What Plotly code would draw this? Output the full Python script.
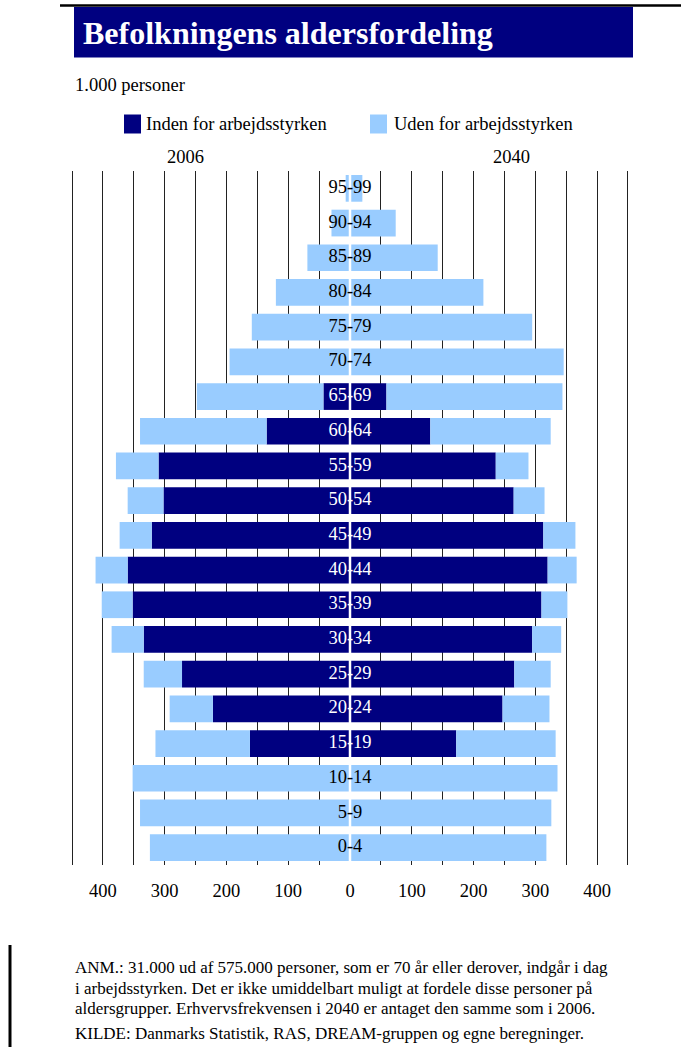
import plotly.graph_objects as go

# ---------------- data (1.000 personer) ----------------
ages = ['0-4', '5-9', '10-14', '15-19', '20-24', '25-29', '30-34', '35-39',
        '40-44', '45-49', '50-54', '55-59', '60-64', '65-69', '70-74',
        '75-79', '80-84', '85-89', '90-94', '95-99']
inden_2006 = [0, 0, 0, 162, 222, 272, 334, 352, 360, 321, 302, 310, 135, 43,
              0, 0, 0, 0, 0, 0]
uden_2006 = [324, 340, 352, 153, 70, 62, 52, 50, 52, 52, 58, 69, 205, 205,
             195, 159, 120, 69, 30, 7]
inden_2040 = [0, 0, 0, 172, 247, 266, 295, 310, 320, 313, 265, 236, 130, 59,
              0, 0, 0, 0, 0, 0]
uden_2040 = [318, 326, 336, 161, 76, 59, 47, 42, 47, 52, 50, 53, 195, 285,
             346, 295, 216, 142, 74, 20]
tick_values = list(range(-450, 451, 50))
tick_labels = [str(abs(v)) if v % 100 == 0 else '' for v in tick_values]

title = 'Befolkningens aldersfordeling'
unit = '1.000 personer'
legend_names = ['Inden for arbejdsstyrken', 'Uden for arbejdsstyrken']
years = ['2006', '2040']
notes = ['ANM.: 31.000 ud af 575.000 personer, som er 70 år eller derover, indgår i dag',
         'i arbejdsstyrken. Det er ikke umiddelbart muligt at fordele disse personer på',
         'aldersgrupper. Erhvervsfrekvensen i 2040 er antaget den samme som i 2006.']
source = 'KILDE: Danmarks Statistik, RAS, DREAM-gruppen og egne beregninger.'

# ---------------- styling ----------------
DARK = '#000080'
LIGHT = '#99CCFF'
FONT = 'Liberation Serif'
W, H = 681, 1047
L, R, T, B = 69, 631, 171, 865


def px(x):
    return (x - L) / (R - L)


def py(y):
    return (B - y) / (B - T)


pos = list(range(len(ages)))
fig = go.Figure()
fig.add_trace(go.Bar(y=pos, x=[-v for v in inden_2006], orientation='h',
                     marker=dict(color=DARK, line=dict(width=0)),
                     name=legend_names[0] + ' ' + years[0], showlegend=False))
fig.add_trace(go.Bar(y=pos, x=[-v for v in uden_2006], orientation='h',
                     marker=dict(color=LIGHT, line=dict(width=0)),
                     name=legend_names[1] + ' ' + years[0], showlegend=False))
fig.add_trace(go.Bar(y=pos, x=inden_2040, orientation='h',
                     marker=dict(color=DARK, line=dict(width=0)),
                     name=legend_names[0] + ' ' + years[1], showlegend=False))
fig.add_trace(go.Bar(y=pos, x=uden_2040, orientation='h',
                     marker=dict(color=LIGHT, line=dict(width=0)),
                     name=legend_names[1] + ' ' + years[1], showlegend=False))
# white divider between the two years
fig.add_trace(go.Scatter(x=[0, 0], y=[-0.5, len(ages) - 0.5], mode='lines',
                         line=dict(color='white', width=2.5),
                         hoverinfo='skip', showlegend=False))
# age group labels
fig.add_trace(go.Scatter(x=[0] * len(ages), y=pos, mode='text', text=ages,
                         textposition='middle center',
                         textfont=dict(family=FONT, size=18.5,
                                       color=['white' if v > 0 else 'black' for v in inden_2006]),
                         hoverinfo='skip', showlegend=False))

fig.update_layout(
    width=W, height=H,
    margin=dict(l=L, r=W - R, t=T, b=H - B, pad=0),
    paper_bgcolor='white', plot_bgcolor='white',
    barmode='relative', bargap=0.23,
    showlegend=False,
    font=dict(family=FONT, size=18.5, color='black'),
    xaxis=dict(range=[-455, 455], tickmode='array', tickvals=tick_values,
               ticktext=tick_labels, showgrid=True, gridcolor='#222222',
               gridwidth=1, zeroline=False, showline=False, ticks='',
               ticklabelstandoff=12,
               tickfont=dict(family=FONT, size=18.5, color='black'),
               fixedrange=True),
    yaxis=dict(range=[-0.5, len(ages) - 0.5], showticklabels=False,
               showgrid=False, zeroline=False, showline=False,
               fixedrange=True),
)

shapes = [
    dict(type='rect', xref='paper', yref='paper', x0=px(74), x1=px(633),
         y0=py(57.5), y1=py(7), fillcolor=DARK, line=dict(width=0), layer='below'),
    dict(type='rect', xref='paper', yref='paper', x0=px(124), x1=px(141),
         y0=py(133.5), y1=py(114.5), fillcolor=DARK, line=dict(width=0)),
    dict(type='rect', xref='paper', yref='paper', x0=px(370), x1=px(387),
         y0=py(133.5), y1=py(114.5), fillcolor=LIGHT, line=dict(width=0)),
    dict(type='line', xref='paper', yref='paper', x0=px(60), x1=px(681),
         y0=py(5.5), y1=py(5.5), line=dict(color='black', width=2.5)),
    dict(type='line', xref='paper', yref='paper', x0=px(10), x1=px(10),
         y0=py(945), y1=py(1047), line=dict(color='black', width=3)),
]
fig.update_layout(shapes=shapes)


def ann(text, x, y, size=18.5, color='black', xanchor='left'):
    return dict(text=text, x=x, y=y, xref='paper', yref='paper',
                xanchor=xanchor, yanchor='middle', showarrow=False,
                font=dict(family=FONT, size=size, color=color))


annotations = [
    ann('<b>' + title + '</b>', px(81), py(33), size=32, color='white'),
    ann(unit, px(73), py(85)),
    ann(legend_names[0], px(144), py(124)),
    ann(legend_names[1], px(392), py(124)),
    ann(years[0], px(185), py(157), xanchor='center'),
    ann(years[1], px(511), py(157), xanchor='center'),
    ann(notes[0], px(73), py(967.5), size=17),
    ann(notes[1], px(73), py(988), size=17),
    ann(notes[2], px(73), py(1008.5), size=17),
    ann(source, px(73), py(1033.5), size=17),
]
fig.update_layout(annotations=annotations)

fig.write_html('out.html')
